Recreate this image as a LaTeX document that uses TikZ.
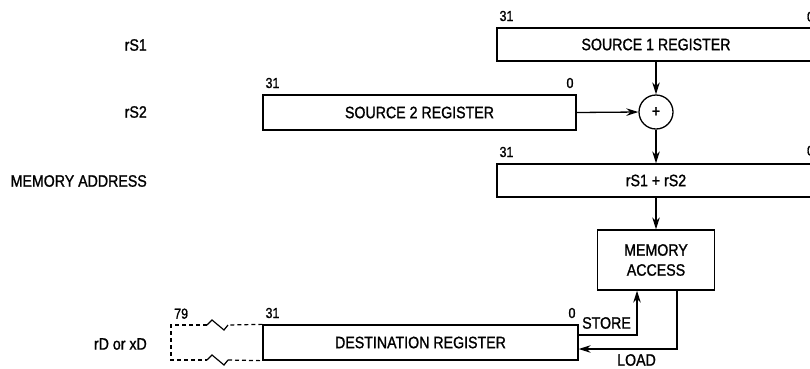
\documentclass[tikz,border=0pt]{standalone}
\usepackage{fontspec}
\setmainfont{Liberation Sans}[FakeStretch=0.86,FakeBold=1.2]
\usetikzlibrary{arrows.meta}
\begin{document}
\begin{tikzpicture}[x=1pt,y=-1pt,
  every node/.style={font=\fontsize{16.5}{19}\selectfont},
  regbox/.style={draw,line width=1.3pt,inner sep=0pt},
  num/.style={inner sep=0pt,font=\fontsize{14.5}{16}\selectfont},
  lab/.style={anchor=east,inner sep=0pt},
  arr/.style={line width=1.3pt,-{Stealth[length=12pt,width=7.5pt]}},
  ln/.style={line width=1.2pt}]
\useasboundingbox (0,0) rectangle (810,368);
% registers
\node[regbox,minimum width=318pt,minimum height=33pt] (src1) at (656,44.5) {SOURCE 1 REGISTER};
\node[regbox,minimum width=313pt,minimum height=35pt] (src2) at (419.5,112.5) {SOURCE 2 REGISTER};
\node[draw,circle,line width=1.3pt,minimum size=34pt,inner sep=0pt] (plus) at (656,112) {+};
\node[regbox,minimum width=318pt,minimum height=33pt] (addr) at (656,180.5) {rS1 + rS2};
\node[regbox,minimum width=117pt,minimum height=60pt,align=center,font=\fontsize{16.5}{20}\selectfont] (mem) at (656,260) {MEMORY\\ACCESS};
\node[regbox,minimum width=315pt,minimum height=35pt] (dest) at (420.5,342.5) {DESTINATION REGISTER};
% bit numbers
\node[num,anchor=south] (n1b) at (810.5,22) {0};
\node[num,anchor=south west] (n1a) at ([xshift=3pt,yshift=6pt]src1.north west) {31};
\node[num,anchor=south west] (n2a) at ([xshift=3pt,yshift=6pt]src2.north west) {31};
\node[num,anchor=south east] (n2b) at ([xshift=-3pt,yshift=6pt]src2.north east) {0};
\node[num,anchor=south west] (n3a) at ([xshift=3pt,yshift=6pt]addr.north west) {31};
\node[num,anchor=south] (n3b) at (810.5,156) {0};
\node[num,anchor=south west] (n4a) at ([xshift=3pt,yshift=6pt]dest.north west) {31};
\node[num,anchor=south east] (n4b) at ([xshift=-3pt,yshift=6pt]dest.north east) {0};
\node[num,anchor=south west] (n5) at (174,319) {79};
% dashed extension
\draw[ln,dashed,dash pattern=on 4pt off 3pt] (dest.north west) -- (228,325);
\draw[ln,dashed,dash pattern=on 4pt off 3pt] (207,325) -- (171,325) -- (171,360) -- (207,360);
\draw[ln,dashed,dash pattern=on 4pt off 3pt] (228,360) -- (dest.south west);
\draw[ln] (207,325) -- (212,320) -- (224,330) -- (228,325);
\draw[ln] (207,360) -- (212,355) -- (224,365) -- (228,360);
% left labels
\node[lab] (l1) at (147,45) {rS1};
\node[lab] (l2) at (147,112) {rS2};
\node[lab] (l3) at (147,181) {MEMORY ADDRESS};
\node[lab] (l4) at (147,344) {rD or xD};
% connectors
\draw[arr] (src1.south) -- (plus.north);
\draw[arr] (src2.east) -- (plus.west);
\draw[arr] (plus.south) -- (addr.north);
\draw[arr] (addr.south) -- (mem.north);
\draw[arr] ([yshift=7.5pt]dest.east) -| ([xshift=-19pt]mem.south);
\draw[arr] ([xshift=21pt]mem.south) |- ([yshift=-6.5pt]dest.east);
\node[inner sep=0pt,anchor=south west] (store) at (582,329) {STORE};
\node[inner sep=0pt,anchor=south west] (load) at (617,366) {LOAD};
\end{tikzpicture}
\end{document}
